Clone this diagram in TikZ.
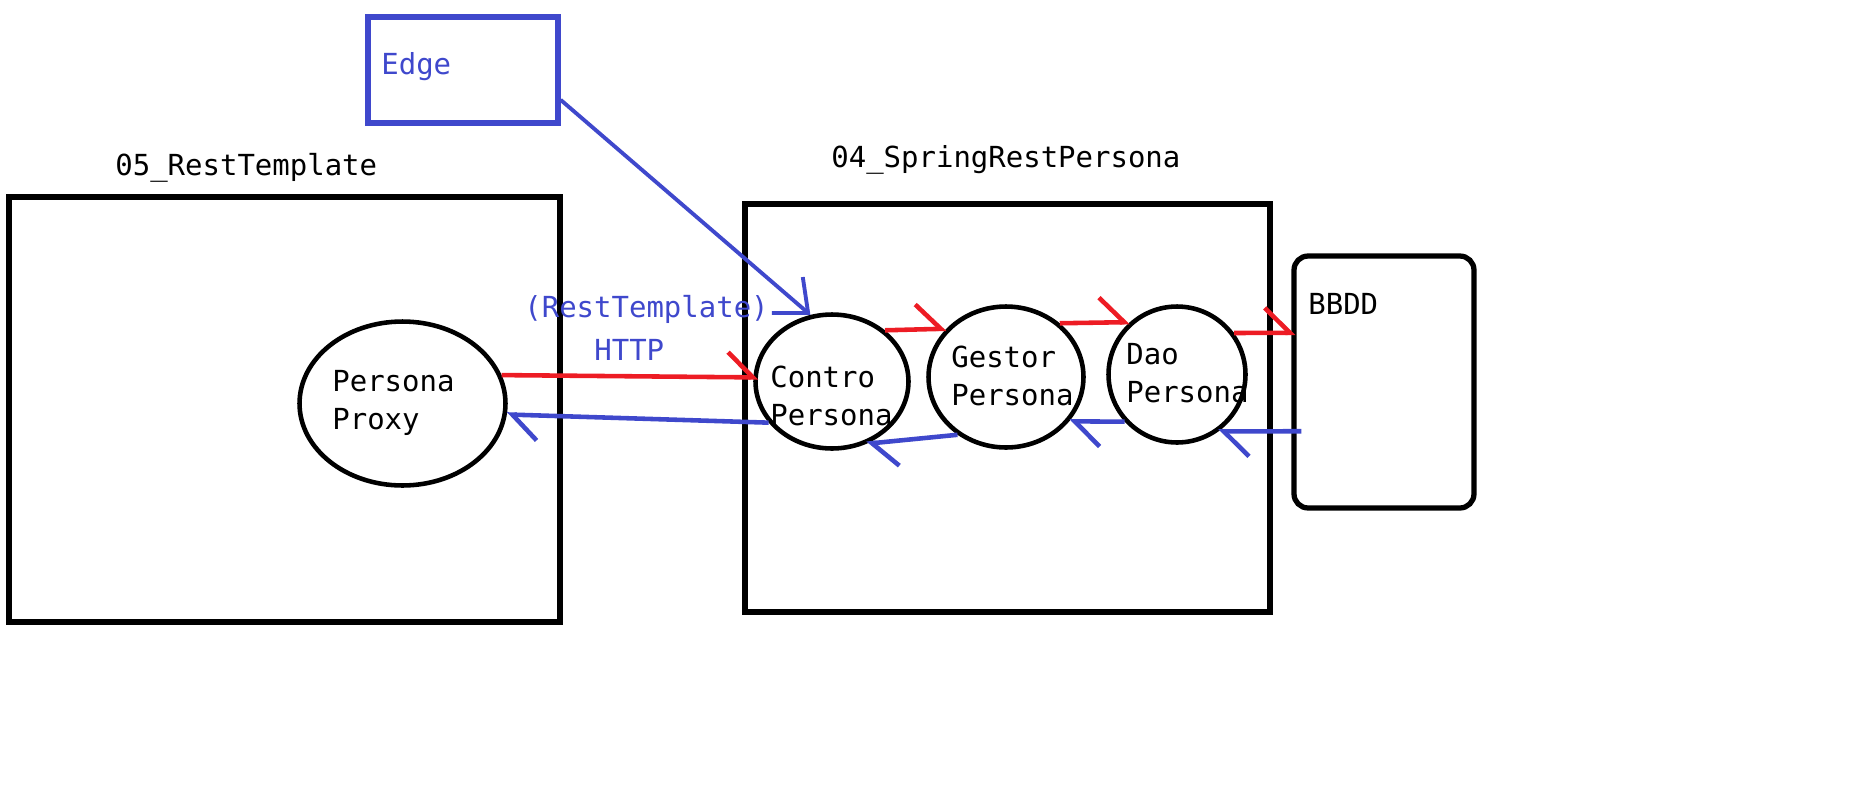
\documentclass[tikz,border=0pt]{standalone}
\usepackage{fontspec}
\setmonofont{DejaVu Sans Mono}
\usepackage{xcolor}
\usetikzlibrary{shapes.geometric, arrows.meta}
\definecolor{paintblue}{HTML}{3F48CC}
\definecolor{paintred}{HTML}{ED1C24}

\begin{document}
\begin{tikzpicture}[x=0.02cm, y=-0.02cm]
\tikzset{
  frame/.style={rectangle,draw=black,line width=3pt,inner sep=0pt},
  dbbox/.style={frame,rounded corners=8pt},
  notebox/.style={rectangle,draw=paintblue,line width=3pt,inner sep=0pt},
  ell/.style={ellipse,draw=black,line width=2.6pt,inner sep=0pt},
  txt/.style={font=\ttfamily\fontsize{16.5}{21.5}\selectfont,inner sep=0pt,anchor=base west,align=left},
  bluetxt/.style={txt,text=paintblue},
  redar/.style={-{Straight Barb[left,length=0.5cm,width=1cm]},line width=2.6pt,draw=paintred},
  bluear/.style={-{Straight Barb[left,length=0.5cm,width=1cm]},line width=2.6pt,draw=paintblue},
  notear/.style={-{Straight Barb[length=0.55cm,width=0.95cm]},line width=2.2pt,draw=paintblue}
}
\useasboundingbox (0,0) rectangle (1853,802);
% ---- boxes
\node[frame,minimum width=11.02cm,minimum height=8.5cm] (rtbox) at (284.5,409.5) {};
\node[frame,minimum width=10.5cm,minimum height=8.16cm] (srbox) at (1007.5,408) {};
\node[dbbox,minimum width=3.6cm,minimum height=5.04cm] (bbdd) at (1384,382) {};
\node[notebox,minimum width=3.8cm,minimum height=2.12cm] (edge) at (463,70) {};
% ---- ellipses
\node[ell,minimum width=4.12cm,minimum height=3.28cm] (proxy) at (402.5,403.5) {};
\node[ell,minimum width=3.06cm,minimum height=2.68cm] (contro) at (832,381.5) {};
\node[ell,minimum width=3.1cm,minimum height=2.82cm] (gestor) at (1006,377) {};
\node[ell,minimum width=2.74cm,minimum height=2.72cm] (dao) at (1177,374.5) {};
% ---- texts (base = last line)
\node[txt] (rtlab) at (115,175) {05\_RestTemplate};
\node[txt] (srlab) at (831,167) {04\_SpringRestPersona};
\node[bluetxt] (edgelab) at (381,74) {Edge};
\node[bluetxt] (rtclab) at (524,317) {(RestTemplate)};
\node[bluetxt] (httplab) at (594,360) {HTTP};
\node[txt] (bbddlab) at (1308,314) {BBDD};
\node[txt] (proxylab) at (332,429) {Persona\\Proxy};
\node[txt] (controlab) at (770,425) {Contro\\Persona};
\node[txt] (gestorlab) at (951,405) {Gestor\\Persona};
\node[txt] (daolab) at (1126,402) {Dao\\Persona};
% ---- arrows
\draw[notear] (edge.-17.5) -- (contro.108);
\draw[redar,shorten >=-0.1cm] (proxy.16) -- (contro.177);
\draw[bluear] (contro.213) -- (proxy.-6);
\draw[redar] (contro.44) -- (gestor.141);
\draw[redar] (gestor.45) -- (dao.132);
\draw[redar,shorten >=-0.08cm] (dao.36) -- (bbdd.152);
\draw[bluear,shorten <=-0.2cm] (bbdd.208) -- (dao.-54);
\draw[bluear] (dao.222) -- (gestor.-35);
\draw[bluear] (gestor.230) -- (contro.-61);
\end{tikzpicture}
\end{document}
